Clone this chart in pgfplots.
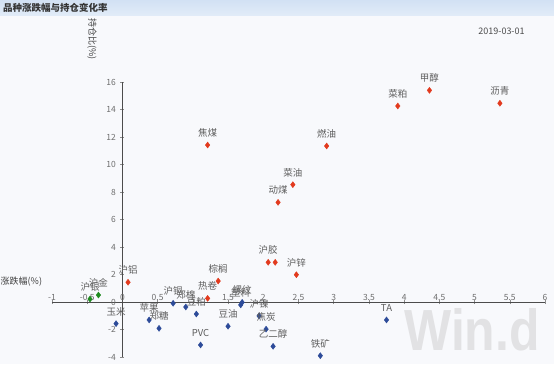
\documentclass[border=0pt]{standalone}
\usepackage{pgfplots}
\pgfplotsset{compat=1.18}
\usepackage{pgfplotstable}
\usepackage{fontspec}
\setmainfont{Noto Sans CJK SC}
\newfontfamily\wmfont{Liberation Sans}
\definecolor{bandtop}{HTML}{D2E1F4}
\definecolor{bandbot}{HTML}{E2ECF8}
\definecolor{bgc}{HTML}{F8F9FC}
\definecolor{ptred}{HTML}{E23A1E}
\definecolor{ptblue}{HTML}{2D4B99}
\definecolor{ptgreen}{HTML}{1E8A1E}
\definecolor{lblgray}{HTML}{5E5E5E}
\definecolor{tickgray}{HTML}{6E6E6E}
\definecolor{wm}{HTML}{E2E2E4}

\pgfplotstableread{
x y label
5.36 14.47 沥青
4.36 15.41 甲醇
3.91 14.27 菜粕
1.21 11.43 焦煤
2.90 11.36 燃油
2.42 8.55 菜油
2.21 7.26 动煤
2.07 2.90 沪胶
2.47 2.00 沪锌
1.36 1.54 棕榈
1.21 0.28 热卷
0.08 1.45 沪铝
}\redtab

\pgfplotstableread{
x y
2.17 2.90
}\redextra

\pgfplotstableread{
x y label
-0.46 0.23 沪银
-0.34 0.52 沪金
}\greentab

\pgfplotstableread{
x y label
-0.09 -1.56 玉米
0.38 -1.29 苹果
0.52 -1.90 郑糖
0.72 -0.08 沪铜
0.90 -0.35 郑棉
1.05 -0.86 豆粕
1.11 -3.11 PVC
1.50 -1.75 豆油
1.68 -0.20 塑料
1.70 -0.01 螺纹
1.94 -1.00 沪镍
2.04 -1.96 焦炭
2.14 -3.21 乙二醇
2.81 -3.89 铁矿
3.75 -1.29 TA
}\bluetab

\begin{document}
\begin{tikzpicture}
\begin{axis}[
  set layers,
  scale only axis, width=493pt, height=275pt,
  axis lines=middle,
  axis line style={-, draw=black!70, line width=0.8pt},
  xmin=-1, xmax=6, ymin=-4, ymax=16,
  enlargelimits=false,
  xtick={-1,-0.5,0,0.5,1,1.5,2,2.5,3,3.5,4,4.5,5,5.5,6},
  ytick={-4,-2,0,2,4,6,8,10,12,14,16},
  hide obscured x ticks=false, hide obscured y ticks=false,
  xticklabel style={anchor=south, yshift=0.5pt},
  yticklabel style={anchor=east, xshift=-1pt},
  tick label style={font=\fontsize{8.5}{9}\selectfont, text=tickgray},
  /pgf/number format/assume math mode=true,
  tick style={draw=black!45, line width=0.5pt},
  major tick length=4pt,
  clip=false,
  every node near coord/.style={anchor=center, yshift=12pt, font=\fontsize{9.5}{10}\selectfont, text=lblgray, inner sep=0pt},
]
\begin{pgfonlayer}{axis background}
\begin{scope}[shift={(axis cs:-1.73793,-4.49455)}]
\fill[bgc] (0pt,0pt) rectangle (554pt,348pt);
\shade[top color=bandtop, bottom color=bandbot] (0pt,348pt) rectangle (554pt,364pt);
\node[inner sep=0pt, font=\wmfont\bfseries\fontsize{58}{58}\selectfont, text=wm, xscale=0.86] at (472pt,34pt) {Win.d};
\end{scope}
\end{pgfonlayer}
\addplot[only marks, mark=diamond*, mark size=3pt, color=ptred, nodes near coords, point meta=explicit symbolic] table[x=x, y=y, meta=label] {\redtab};
\addplot[only marks, mark=diamond*, mark size=3pt, color=ptred] table[x=x, y=y] {\redextra};
\addplot[only marks, mark=diamond*, mark size=3pt, color=ptgreen, nodes near coords, point meta=explicit symbolic] table[x=x, y=y, meta=label] {\greentab};
\addplot[only marks, mark=diamond*, mark size=3pt, color=ptblue, nodes near coords, point meta=explicit symbolic] table[x=x, y=y, meta=label] {\bluetab};
\begin{scope}[shift={(axis cs:-1.73793,-4.49455)}]
\node[anchor=west, inner sep=0pt, font=\bfseries\fontsize{9.5}{10}\selectfont, text=black!80] at (3pt,356.5pt) {品种涨跌幅与持仓变化率};
\node[inner sep=0pt, font=\fontsize{9}{10}\selectfont, text=black!70] at (501.5pt,332.5pt) {2019-03-01};
\node[rotate=-90, inner sep=0pt, font=\fontsize{9}{10}\selectfont, text=black!75] at (92pt,325pt) {持仓比(\%)};
\node[anchor=west, inner sep=0pt, font=\fontsize{9}{10}\selectfont, text=black!75] at (0.5pt,82pt) {涨跌幅(\%)};
\end{scope}
\end{axis}
\end{tikzpicture}
\end{document}
